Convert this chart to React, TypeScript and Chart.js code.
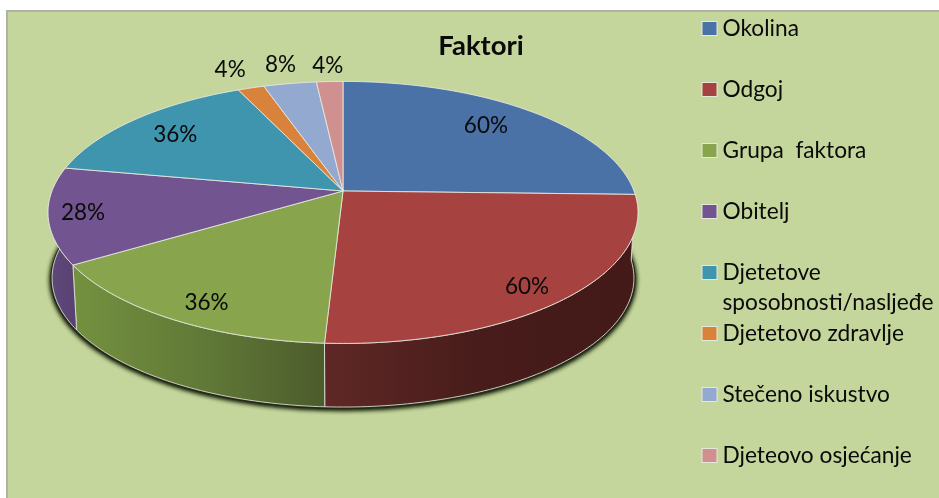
import React, { useEffect, useRef } from "react";
import { Chart, registerables } from "chart.js";

Chart.register(...registerables);

const categories: (string | string[])[] = [
  "Okolina",
  "Odgoj",
  "Grupa  faktora",
  "Obitelj",
  ["Djetetove", "sposobnosti/nasljeđe"],
  "Djetetovo zdravlje",
  "Stečeno iskustvo",
  "Djeteovo osjećanje",
];
const values = [60, 60, 36, 28, 36, 4, 8, 4];
const topColors = ["#4a72a6", "#a64340", "#88a44c", "#715490", "#3f95ae", "#d9823b", "#93a9cf", "#d09090"];
const labelRadii = [0.775, 0.874, 0.868, 0.885, 0.78, 1.218, 1.213, 1.175];
const labelAngleShift = [-2, 2.6, -2.3, 0, -0.9, -0.8, 0, 0];
const sideGradients: Record<number, [string, string, string]> = {
  1: ["#5f2826", "#471c1a", "#431a18"],
  2: ["#74913f", "#617a38", "#4c5c2c"],
  3: ["#5f4a7c", "#5c4677", "#594272"],
};

const TITLE = "Faktori";
const FONT = "Lato, 'Open Sans', sans-serif";

type Plane = { cx: number; cy: number; a: number; b: number; c: number };
const topPlane: Plane = { cx: 343, cy: 191, a: 291, b: 127.5, c: -0.1635 };
const bottomPlane: Plane = { cx: 343, cy: 257, a: 287, b: 125.5, c: -0.1635 };
const shadowPlane: Plane = { cx: 343, cy: 257.5, a: 288.5, b: 126.5, c: -0.1635 };

const project = (p: Plane, angle: number, r = 1): [number, number] => {
  const X = r * Math.cos(angle);
  const Y = r * Math.sin(angle);
  const d = 1 + p.c * Y;
  return [p.cx + (p.a * X) / d, p.cy + (p.b * Y) / d];
};

const arcPoints = (p: Plane, from: number, to: number) => {
  const n = Math.max(2, Math.ceil(Math.abs(to - from) / (Math.PI / 180)));
  const pts: [number, number][] = [];
  for (let i = 0; i <= n; i++) pts.push(project(p, from + ((to - from) * i) / n));
  return pts;
};

const trace = (ctx: CanvasRenderingContext2D, pts: [number, number][], start = true) => {
  pts.forEach(([x, y], i) => {
    if (i === 0 && start) ctx.moveTo(x, y);
    else ctx.lineTo(x, y);
  });
};

const pie3d = {
  id: "pie3d",
  beforeDraw(chart: Chart) {
    const { ctx, width, height } = chart;
    ctx.save();
    ctx.fillStyle = "#ffffff";
    ctx.fillRect(0, 0, width, height);
    ctx.fillStyle = "#c4d69b";
    ctx.fillRect(6, 10, width - 6, height - 10);
    ctx.fillStyle = "#aeb3a2";
    ctx.fillRect(6, 10, width - 6, 2);
    ctx.fillRect(6, 10, 2, height - 10);
    ctx.restore();
  },
  beforeDatasetsDraw(chart: Chart) {
    const { ctx } = chart;
    const arcs = chart.getDatasetMeta(0).data as any[];
    const HALF = Math.PI;

    ctx.save();
    // soft shadow round the lower rim
    ctx.save();
    ctx.shadowColor = "rgba(15,25,5,1)";
    ctx.shadowBlur = 5;
    ctx.shadowOffsetY = 1;
    ctx.fillStyle = "#2a2d1c";
    for (let k = 0; k < 2; k++) {
      ctx.beginPath();
      trace(ctx, arcPoints(shadowPlane, -0.1, HALF + 0.1));
      ctx.closePath();
      ctx.fill();
    }
    ctx.restore();

    // side walls
    arcs.forEach((arc, i) => {
      const from = Math.max(arc.startAngle, -0.2);
      const to = Math.min(arc.endAngle, HALF + 0.2);
      if (to <= from) return;
      const top = arcPoints(topPlane, from, to);
      const bot = arcPoints(bottomPlane, from, to).reverse();
      const stops = sideGradients[i];
      const xs = top.map((p) => p[0]);
      const g = ctx.createLinearGradient(Math.min(...xs), 0, Math.max(...xs), 0);
      if (stops) {
        g.addColorStop(0, stops[0]);
        g.addColorStop(0.5, stops[1]);
        g.addColorStop(1, stops[2]);
      }
      ctx.beginPath();
      trace(ctx, top);
      trace(ctx, bot, false);
      ctx.closePath();
      ctx.fillStyle = stops ? g : "#333";
      ctx.fill();
      ctx.strokeStyle = "rgba(225,228,215,0.85)";
      ctx.lineWidth = 1;
      ctx.stroke();
    });

    // top faces
    arcs.forEach((arc, i) => {
      ctx.beginPath();
      ctx.moveTo(topPlane.cx, topPlane.cy);
      trace(ctx, arcPoints(topPlane, arc.startAngle, arc.endAngle), false);
      ctx.closePath();
      ctx.fillStyle = topColors[i];
      ctx.fill();
      ctx.strokeStyle = "rgba(232,234,225,0.85)";
      ctx.lineWidth = 1;
      ctx.lineJoin = "round";
      ctx.stroke();
    });

    // data labels
    ctx.fillStyle = "#0a0a0a";
    ctx.font = `22.5px ${FONT}`;
    ctx.textAlign = "center";
    ctx.textBaseline = "middle";
    arcs.forEach((arc, i) => {
      const mid = (arc.startAngle + arc.endAngle) / 2 + (labelAngleShift[i] * Math.PI) / 180;
      const [x, y] = project(topPlane, mid, labelRadii[i]);
      ctx.fillText(`${values[i]}%`, x, y);
    });
    ctx.restore();
    return false;
  },
  afterDraw(chart: Chart) {
    const { ctx } = chart;
    ctx.save();
    // title
    ctx.fillStyle = "#0a0a0a";
    ctx.font = `bold 27.5px ${FONT}`;
    ctx.textAlign = "center";
    ctx.textBaseline = "middle";
    ctx.fillText(TITLE, 481, 46);
    // legend
    ctx.font = `22.7px ${FONT}`;
    ctx.textAlign = "left";
    categories.forEach((label, i) => {
      const yc = 28.5 + 61 * i;
      ctx.fillStyle = "#e4e9d8";
      ctx.fillRect(701.5, yc - 7.5, 16, 15);
      ctx.fillStyle = topColors[i];
      ctx.fillRect(702.5, yc - 6.5, 14, 13);
      ctx.fillStyle = "#0a0a0a";
      const lines = Array.isArray(label) ? label : [label];
      lines.forEach((line, j) => ctx.fillText(line, 722.5, yc + j * 30));
    });
    ctx.restore();
  },
};

export default function App() {
  const ref = useRef<HTMLCanvasElement>(null);
  useEffect(() => {
    const chart = new Chart(ref.current!, {
      type: "pie",
      data: {
        labels: categories as any,
        datasets: [{ data: values, backgroundColor: topColors }],
      },
      options: {
        animation: false,
        responsive: false,
        plugins: { legend: { display: false }, tooltip: { enabled: false } },
      },
      plugins: [pie3d as any],
    });
    return () => chart.destroy();
  }, []);
  return (
    <canvas
      ref={ref}
      width={939}
      height={498}
      style={{ position: "absolute", left: 0, top: 0, display: "block" }}
    />
  );
}
